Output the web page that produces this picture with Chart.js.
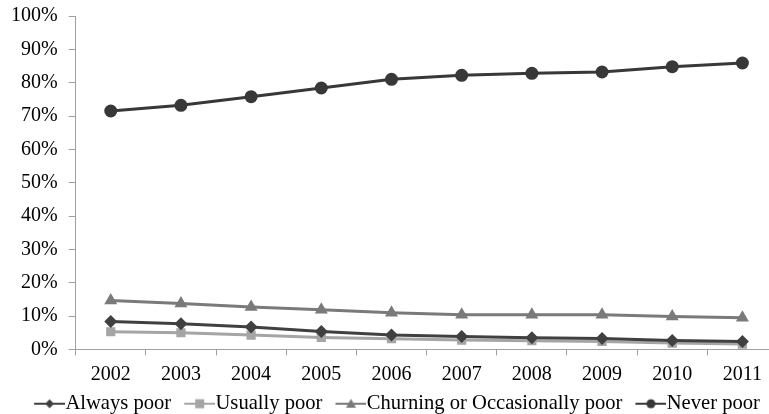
<!DOCTYPE html>
<html>
<head>
<meta charset="utf-8">
<script src="https://cdn.jsdelivr.net/npm/chart.js@4"></script>
<style>
  html, body { margin: 0; padding: 0; background: #fff; overflow: hidden; }
  #wrap { width: 769px; height: 414px; overflow: hidden; }
  #poverty-chart { display: block; margin-top: -7px; }
</style>
</head>
<body>
<div id="wrap"><canvas id="poverty-chart" width="785" height="431"></canvas></div>
<script>
// Dữ liệu
const years = ["2002", "2003", "2004", "2005", "2006", "2007", "2008", "2009", "2010", "2011"];
const alwaysPoor = [8.4, 7.7, 6.7, 5.4, 4.3, 3.9, 3.5, 3.3, 2.7, 2.4];
const usuallyPoor = [5.3, 5.0, 4.3, 3.6, 3.2, 2.8, 2.6, 2.4, 1.9, 1.6];
const churningPoor = [14.7, 13.8, 12.7, 11.9, 11.0, 10.4, 10.4, 10.4, 9.9, 9.5];
const neverPoor = [71.5, 73.2, 75.8, 78.4, 81.0, 82.2, 82.8, 83.2, 84.8, 85.9];
const yTicks = [0, 10, 20, 30, 40, 50, 60, 70, 80, 90, 100];

const FONT = "'Liberation Serif', 'Times New Roman', serif";
const FONT_SIZE = 20;

// Ký hiệu chú thích: đoạn thẳng + điểm nhỏ (phần bên trái để trống)
function legendIcon(color, shape) {
    const c = document.createElement("canvas");
    c.width = 54;
    c.height = 12;
    const g = c.getContext("2d");
    const x0 = 23, cx = x0 + 15.5;
    g.strokeStyle = color;
    g.fillStyle = color;
    g.lineWidth = 2;
    g.beginPath();
    g.moveTo(x0, 6);
    g.lineTo(54, 6);
    g.stroke();
    g.beginPath();
    if (shape === "circle") {
        g.arc(cx, 6, 4.5, 0, Math.PI * 2);
    } else if (shape === "rect") {
        g.rect(cx - 4.5, 1.5, 9, 9);
    } else if (shape === "triangle") {
        g.moveTo(cx, 1);
        g.lineTo(cx + 5, 10);
        g.lineTo(cx - 5, 10);
        g.closePath();
    } else {
        g.moveTo(cx, 1.5);
        g.lineTo(cx + 4.5, 6);
        g.lineTo(cx, 10.5);
        g.lineTo(cx - 4.5, 6);
        g.closePath();
    }
    g.fill();
    return c;
}

function makeSeries(label, data, color, shape, radius) {
    return {
        label: label,
        data: data,
        borderColor: color,
        backgroundColor: color,
        borderWidth: 3,
        pointStyle: shape,
        pointRadius: radius,
        pointBorderWidth: 0,
        pointBackgroundColor: color,
        tension: 0,
        icon: legendIcon(color, shape)
    };
}

const datasets = [
    makeSeries("Always poor", alwaysPoor, "#404040", "rectRot", 6.5),
    makeSeries("Usually poor", usuallyPoor, "#a5a5a5", "rect", 6.5),
    makeSeries("Churning or Occasionally poor", churningPoor, "#7a7a7a", "triangle", 7.5),
    makeSeries("Never poor", neverPoor, "#383838", "circle", 6.5)
];

const ctx = document.getElementById("poverty-chart").getContext("2d");
new Chart(ctx, {
    type: "line",
    data: { labels: years, datasets: datasets },
    options: {
        responsive: false,
        animation: false,
        layout: { padding: { left: 0, right: 4, top: 0, bottom: 0 } },
        plugins: {
            tooltip: { enabled: false },
            legend: {
                position: "bottom",
                labels: {
                    usePointStyle: true,
                    pointStyleWidth: 34,
                    color: "#000",
                    padding: 0,
                    font: { family: FONT, size: 20.6 },
                    generateLabels: chart => chart.data.datasets.map((ds, i) => ({
                        text: ds.label,
                        pointStyle: ds.icon,
                        fillStyle: ds.borderColor,
                        strokeStyle: ds.borderColor,
                        lineWidth: 0,
                        fontColor: "#000",
                        datasetIndex: i
                    }))
                }
            }
        },
        scales: {
            x: {
                offset: true,
                grid: { display: true, drawOnChartArea: false, offset: true, tickLength: 6, color: "#a0a0a0" },
                border: { color: "#a0a0a0", width: 1 },
                ticks: { color: "#000", padding: 9, maxRotation: 0, font: { family: FONT, size: FONT_SIZE, lineHeight: 1 } }
            },
            y: {
                min: 0,
                max: 100,
                afterBuildTicks: axis => { axis.ticks = yTicks.map(v => ({ value: v })); },
                grid: { display: true, drawOnChartArea: false, tickLength: 7, color: "#a0a0a0" },
                border: { color: "#a0a0a0", width: 1 },
                ticks: {
                    color: "#000",
                    padding: 11,
                    font: { family: FONT, size: FONT_SIZE },
                    callback: v => v + "%"
                }
            }
        }
    }
});
</script>
</body>
</html>
